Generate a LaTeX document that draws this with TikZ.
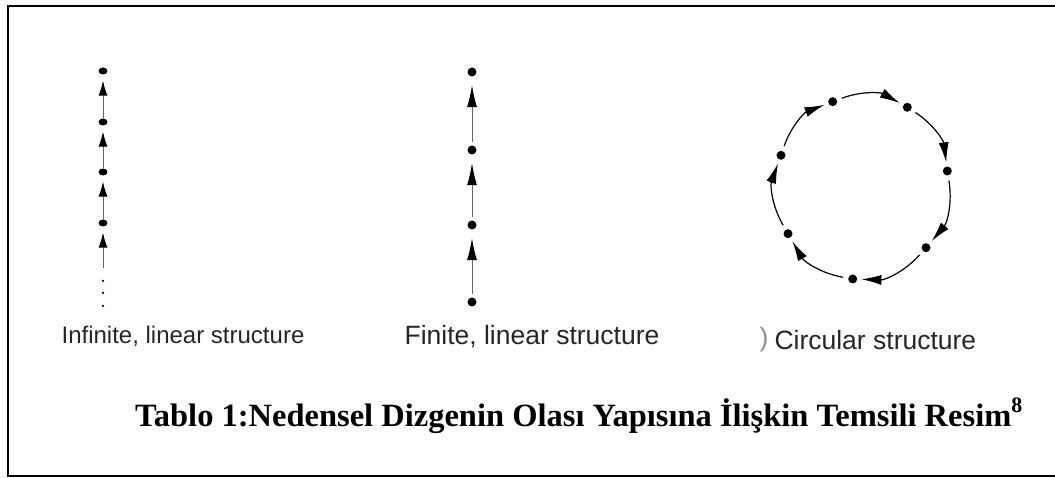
\documentclass[tikz,border=0pt]{standalone}
\usepackage{fontspec}
\setmainfont{Liberation Serif}
\setsansfont{Liberation Sans}
\usetikzlibrary{arrows.meta,shapes.geometric}
\tikzstyle{dot} = [circle, fill=black, inner sep=0pt, minimum size=9pt]
\tikzstyle{edot} = [ellipse, fill=black, inner sep=0pt, minimum width=9pt, minimum height=7pt]
\tikzstyle{tiny} = [circle, fill=black, inner sep=0pt, minimum size=2.5pt]
\tikzstyle{link} = [draw=black!60, line width=1pt]
\tikzstyle{label} = [font=\sffamily\fontsize{26.5}{30}\selectfont, text=black!85]

\begin{document}
\begin{tikzpicture}[x=1pt,y=1pt]
\useasboundingbox (0,0) rectangle (1055,478);
\draw[line width=2.8pt] (1055,472) -- (8,472) -- (8,2) -- (1055,2);

% infinite chain
\node[edot] (a1) at (103,407) {};
\node[edot] (a2) at (103,356) {};
\node[edot] (a3) at (103,306) {};
\node[edot] (a4) at (103,255) {};
\coordinate (a5) at (103,210);
\node[tiny] (d1) at (103,197) {};
\node[tiny] (d2) at (103,185) {};
\node[tiny] (d3) at (103,172) {};
\foreach \from/\to in {a2/a1,a3/a2,a4/a3,a5/a4}
{
	\draw[link, -{Latex[length=15pt,width=9pt,color=black]}, shorten >=6pt] (\from) -- (\to);
}
\node[label, font=\sffamily\fontsize{24}{28}\selectfont, inner sep=0pt] (lblA) at (183,142) {Infinite, linear structure};

% finite chain
\node[dot] (b1) at (472,406) {};
\node[dot] (b2) at (472,328) {};
\node[dot] (b3) at (472,253) {};
\node[dot] (b4) at (472,176) {};
\foreach \from/\to in {b2/b1,b3/b2,b4/b3}
{
	\draw[link, -{Latex[length=22pt,width=10pt,color=black]}, shorten <=3.5pt, shorten >=8.5pt] (\from) -- (\to);
}
\node[label] (lblB) at (532,141) {Finite, linear structure};

% circle
\node[dot] (c1) at (832.7,376.3) {};
\node[dot] (c2) at (907.3,370.7) {};
\node[dot] (c3) at (947.3,307) {};
\node[dot] (c4) at (926,230.3) {};
\node[dot] (c5) at (852.7,199) {};
\node[dot] (c6) at (788,244.3) {};
\node[dot] (c7) at (781,322.7) {};
\foreach \from/\to in {c1/c2,c2/c3,c3/c4,c4/c5,c5/c6,c6/c7,c7/c1}
{
	\draw[line width=1.2pt, -{Latex[length=20pt,width=10pt]}, shorten <=5pt, shorten >=4pt] (\from) to[bend left=25] (\to);
}
\node[label, text=black!45, anchor=west] (paren) at (756,138) {)};
\node[label, anchor=west] (lblC) at (771,138) {Circular structure};

\node[anchor=base west, inner sep=0pt, font=\bfseries\fontsize{32.5}{38}\selectfont] (caption) at (135,51)
	{Tablo 1:Nedensel Dizgenin Olası Yapısına İlişkin Temsili Resim\raisebox{14pt}{\fontsize{22}{24}\selectfont 8}};
\end{tikzpicture}
\end{document}
